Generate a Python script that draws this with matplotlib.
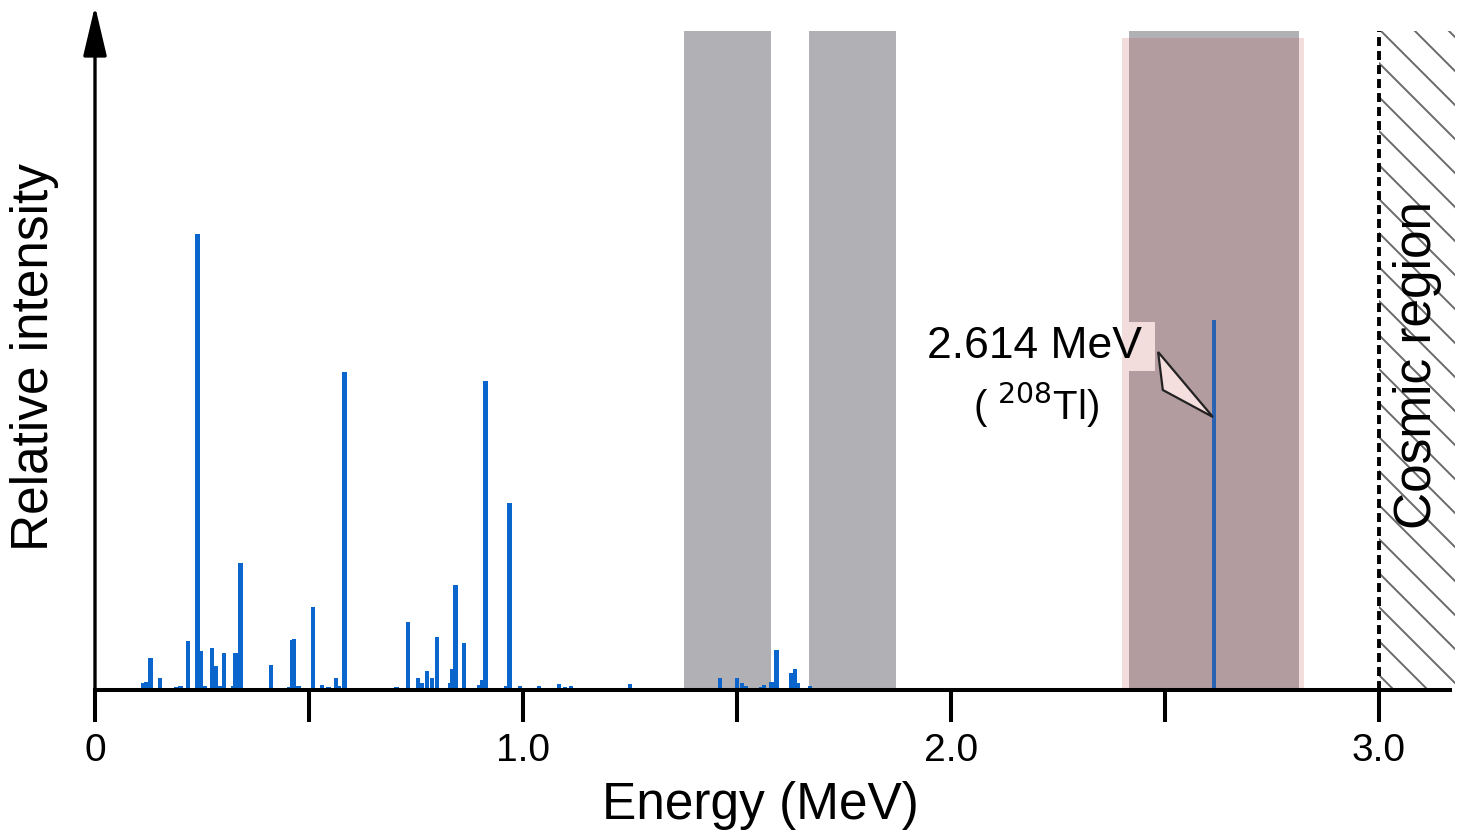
import matplotlib
matplotlib.use("Agg")
import matplotlib.pyplot as plt
from matplotlib.patches import Rectangle, Polygon
import numpy as np

plt.rcParams['font.family'] = ['Liberation Sans', 'DejaVu Sans']

# ---- data (energy in MeV, relative intensity in arbitrary units) ----
line_energy = [0.112, 0.120, 0.129, 0.152, 0.190, 0.200, 0.217, 0.239, 0.248, 0.256,
               0.273, 0.281, 0.291, 0.301, 0.322, 0.328, 0.340, 0.411, 0.455, 0.461,
               0.465, 0.475, 0.509, 0.530, 0.545, 0.563, 0.570, 0.583, 0.655, 0.670,
               0.690, 0.705, 0.731, 0.755, 0.763, 0.776, 0.787, 0.799, 0.831, 0.836,
               0.843, 0.862, 0.897, 0.904, 0.913, 0.948, 0.960, 0.969, 0.993, 1.037,
               1.068, 1.084, 1.098, 1.112, 1.159, 1.250, 1.290, 1.460, 1.500, 1.512,
               1.521, 1.556, 1.563, 1.580, 1.593, 1.626, 1.636, 1.643, 1.671, 1.682,
               1.692, 1.808, 1.893]
line_intensity = [7, 8, 32, 12, 3, 4, 49, 456, 39, 4,
                  42, 24, 4, 37, 4, 37, 127, 25, 3, 50,
                  51, 4, 83, 5, 3, 12, 4, 318, 2, 2,
                  2, 3, 68, 12, 7, 19, 12, 53, 7, 21,
                  105, 47, 5, 10, 309, 2, 4, 187, 4, 4,
                  2, 6, 3, 4, 2, 6, 2, 12, 12, 7,
                  4, 3, 5, 8, 40, 17, 21, 7, 4, 2,
                  2, 2, 2]
tl_energy = 2.614
tl_intensity = 370

gray_windows = [(1.376, 1.579), (1.668, 1.871), (2.416, 2.813)]
pink_window = (2.40, 2.825)
cosmic_start = 3.0
xmax = 3.166
ymax = 680
band_top = 659
pink_top = 652

xticks_major = [0, 1.0, 2.0, 3.0]
xtick_labels = ["0", "1.0", "2.0", "3.0"]
xticks_minor = [0.5, 1.5, 2.5]

W, H = 1466, 838
fig = plt.figure(figsize=(W / 100, H / 100), dpi=100)
ax = fig.add_axes([95 / W, 1 - 690 / H, (1450 - 95) / W, 680 / H])
ax.set_xlim(0, xmax)
ax.set_ylim(0, ymax)

# gray windows
for x0, x1 in gray_windows:
    ax.add_patch(Rectangle((x0, 0), x1 - x0, band_top, facecolor='#b1b1b5',
                           edgecolor='none', zorder=1))

# white label background
ax.add_patch(Rectangle((2.0, 319), 2.477 - 2.0, 49, facecolor='white',
                       edgecolor='none', zorder=2))

# pink window
ax.add_patch(Rectangle((pink_window[0], 0), pink_window[1] - pink_window[0], pink_top,
                       facecolor=(187 / 255, 70 / 255, 70 / 255), alpha=0.19,
                       edgecolor='none', zorder=3))

# spectrum lines
ax.bar(line_energy, line_intensity, width=0.0108, color='#0a66cc', edgecolor='none',
       align='center', zorder=4)
ax.bar([tl_energy], [tl_intensity], width=0.0098, color='#2862b0', edgecolor='none',
       zorder=4)

# pointer
ax.add_patch(Polygon([(2.484, 338), (2.495, 300), (tl_energy - 0.002, 273)],
                     closed=True, facecolor='#f4dede', edgecolor='#222222',
                     linewidth=1.6, zorder=5))

ax.text(2.194, 343, "2.614 MeV", ha='center', va='center', fontsize=32, zorder=6)
ax.text(2.199, 285, r"( $^{208}$Tl)", ha='center', va='center', fontsize=29, zorder=6)

# cosmic region hatch
clip = Rectangle((cosmic_start, 0), 3.178 - cosmic_start, band_top, facecolor='none',
                 edgecolor='none', transform=ax.transData)
ax.add_patch(clip)
px_per_mev = 1355 / xmax
for c in np.arange(661 - 34 * 22, 661 + 34 * 4, 34):
    xs = np.array([cosmic_start - 0.1, 3.3])
    ys = c - px_per_mev * (xs - cosmic_start)
    ln, = ax.plot(xs, ys, color='#6a6a6a', lw=1.4, zorder=2, clip_on=True)
    ln.set_clip_path(clip)
ax.plot([cosmic_start, cosmic_start], [0, band_top], color='black', lw=2.8,
        linestyle=(0, (2.3, 1.3)), zorder=5, solid_capstyle='butt')
fig.text(1418 / W, 1 - 365 / H, "Cosmic region", rotation=90, ha='center',
         va='center', fontsize=37)

# axes styling
for s in ['top', 'right', 'left']:
    ax.spines[s].set_visible(False)
ax.spines['bottom'].set_linewidth(2.9)
ax.spines['bottom'].set_zorder(7)
ax.set_yticks([])
ax.set_xticks(xticks_major)
ax.set_xticklabels(xtick_labels, fontsize=28)
ax.set_xticks(xticks_minor, minor=True)
ax.tick_params(axis='x', which='both', direction='out', length=23, width=2.9, pad=8)
ax.annotate('', xy=(0, 1.006), xytext=(0, 0), xycoords='axes fraction',
            arrowprops=dict(arrowstyle='-|>,head_length=1.4,head_width=0.33',
                            lw=2.4, color='black', mutation_scale=22,
                            shrinkA=0, shrinkB=0), zorder=8, annotation_clip=False)

fig.text(760 / W, 1 - 805 / H, "Energy (MeV)", ha='center', va='center', fontsize=37)
fig.text(35 / W, 1 - 357 / H, "Relative intensity", rotation=90, ha='center',
         va='center', fontsize=37)

fig.savefig("out.png", dpi=100)
